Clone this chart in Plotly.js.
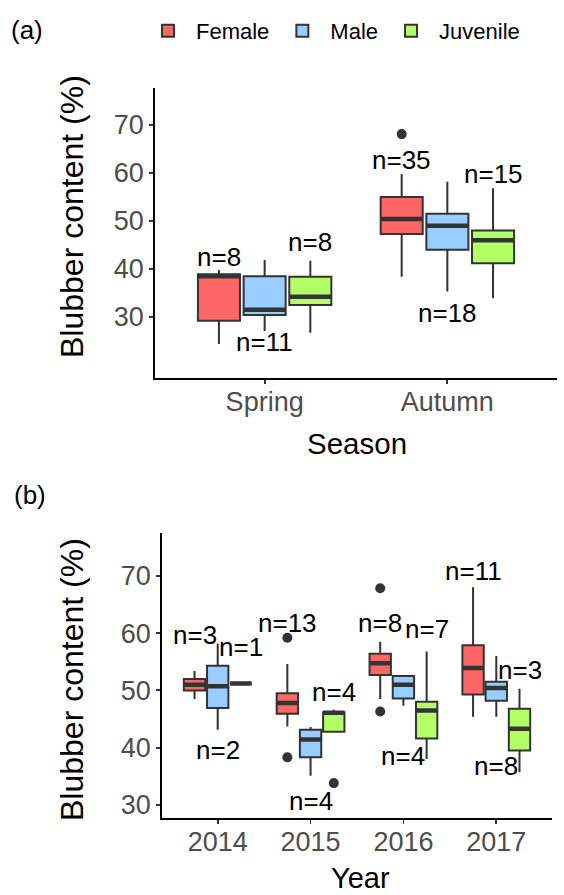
<!DOCTYPE html>
<html>
<head>
<meta charset="utf-8">
<script src="https://cdn.plot.ly/plotly-3.0.1.min.js"></script>
<style>
html,body{margin:0;padding:0;background:#ffffff;}
#chart{width:564px;height:895px;}
</style>
</head>
<body>
<div id="chart"></div>
<script>
// ---------------- DATA ----------------
const groups = ['Female', 'Male', 'Juvenile'];

// Panel (a): by season. Each row = [lower whisker, Q1, median, Q3, upper whisker]
const seasons = ['Spring', 'Autumn'];
const seasonFemale   = [[24.4, 29.2, 38.5, 38.9, 39.8], [38.4, 47.3, 50.4, 55.0, 59.8]];
const seasonMale     = [[27.1, 30.4, 31.5, 38.5, 41.9], [35.3, 44.0, 49.0, 51.5, 58.2]];
const seasonJuvenile = [[26.7, 32.5, 34.2, 38.4, 41.7], [33.9, 41.2, 46.0, 48.0, 56.8]];
const seasonFemaleOut   = [[], [68.1]];
const seasonMaleOut     = [[], []];
const seasonJuvenileOut = [[], []];
const seasonFemaleN   = [8, 35];
const seasonMaleN     = [11, 18];
const seasonJuvenileN = [8, 15];

// Panel (b): by year
const years = ['2014', '2015', '2016', '2017'];
const yearFemale   = [[48.5, 50.0, 51.0, 52.0, 53.4], [43.7, 45.9, 47.8, 49.5, 54.6], [48.5, 52.7, 54.75, 56.4, 58.5], [45.4, 49.3, 53.9, 57.9, 68.0]];
const yearMale     = [[43.1, 46.9, 50.7, 54.3, 58.2], [35.1, 38.3, 41.4, 43.1, 43.6], [47.3, 48.6, 51.0, 52.5, 52.5], [45.4, 48.2, 50.4, 51.5, 56.0]];
const yearJuvenile = [[51.2, 51.2, 51.2, 51.2, 51.2], [42.75, 42.75, 46.1, 46.2, 46.6], [38.0, 41.6, 46.5, 48.0, 56.8], [35.7, 39.5, 43.3, 46.8, 50.3]];
const yearFemaleOut   = [[], [59.2, 38.3], [67.85, 46.3], []];
const yearMaleOut     = [[], [], [], []];
const yearJuvenileOut = [[], [33.8], [], []];
const yearFemaleN   = [3, 13, 8, 11];
const yearMaleN     = [2, 4, 4, 8];
const yearJuvenileN = [1, 4, 7, 3];

// ---------------- LABEL PLACEMENT (y in data units) ----------------
const seasonFemaleLabelY   = [42.5, 62.7];
const seasonMaleLabelY     = [24.8, 30.8];
const seasonJuvenileLabelY = [45.6, 59.8];
const yearFemaleLabelY   = [59.7, 61.8, 61.85, 70.9];
const yearMaleLabelY     = [39.6, 30.6, 38.6, 36.7];
const yearJuvenileLabelY = [57.65, 49.8, 60.7, 53.6];

// ---------------- STYLE ----------------
const FONT = '"Liberation Sans", Arial, sans-serif';
const colors = {Female: '#FF6666', Male: '#99CCFF', Juvenile: '#B3FF66'};
const OUTLINE = '#333333';
const BOXGAP = 0.25, BOXGROUPGAP = 0.08;
const slot = (1 - BOXGAP) / groups.length;
const offsetOf = gi => (gi - (groups.length - 1) / 2) * slot;

const traces = [];
const annotations = [];

function addPanel(cats, statsByGroup, outByGroup, nByGroup, labelYByGroup, xa, ya, showLegend) {
  const pos = cats.map((c, i) => i);
  const xref = xa === 'x' ? 'x' : 'x2';
  const yref = ya === 'y' ? 'y' : 'y2';
  groups.forEach((g, gi) => {
    const st = statsByGroup[gi];
    traces.push({
      type: 'box', name: g, legendgroup: g, showlegend: showLegend,
      offsetgroup: g, xaxis: xa, yaxis: ya,
      x: pos,
      lowerfence: st.map(s => s[0]), q1: st.map(s => s[1]), median: st.map(s => s[2]),
      q3: st.map(s => s[3]), upperfence: st.map(s => s[4]),
      fillcolor: colors[g], line: {color: OUTLINE, width: 2},
      whiskerwidth: 0, boxpoints: false, hoverinfo: 'skip'
    });
  });
  // thick median bars
  groups.forEach((g, gi) => {
    const st = statsByGroup[gi];
    const med = st.map(s => s[2]);
    traces.push({
      type: 'box', name: g + ' median', legendgroup: g, showlegend: false,
      offsetgroup: g, xaxis: xa, yaxis: ya,
      x: pos, lowerfence: med, q1: med, median: med, q3: med, upperfence: med,
      fillcolor: 'rgba(0,0,0,0)', line: {color: OUTLINE, width: 4.5},
      whiskerwidth: 0, boxpoints: false, hoverinfo: 'skip'
    });
  });
  // outliers
  groups.forEach((g, gi) => {
    const ox = [], oy = [];
    outByGroup[gi].forEach((vals, ci) => vals.forEach(v => { ox.push(ci + offsetOf(gi)); oy.push(v); }));
    if (ox.length) {
      traces.push({
        type: 'scatter', mode: 'markers', x: ox, y: oy, xaxis: xa, yaxis: ya,
        showlegend: false, hoverinfo: 'skip',
        marker: {color: OUTLINE, size: 10}
      });
    }
  });
  // n labels
  groups.forEach((g, gi) => {
    nByGroup[gi].forEach((n, ci) => {
      annotations.push({
        xref: xref, yref: yref, x: ci + offsetOf(gi), y: labelYByGroup[gi][ci],
        text: 'n=' + n, showarrow: false, xanchor: 'center', yanchor: 'middle',
        font: {family: FONT, size: 26, color: '#000000'}
      });
    });
  });
}

addPanel(seasons, [seasonFemale, seasonMale, seasonJuvenile],
         [seasonFemaleOut, seasonMaleOut, seasonJuvenileOut],
         [seasonFemaleN, seasonMaleN, seasonJuvenileN],
         [seasonFemaleLabelY, seasonMaleLabelY, seasonJuvenileLabelY], 'x', 'y', true);
addPanel(years, [yearFemale, yearMale, yearJuvenile],
         [yearFemaleOut, yearMaleOut, yearJuvenileOut],
         [yearFemaleN, yearMaleN, yearJuvenileN],
         [yearFemaleLabelY, yearMaleLabelY, yearJuvenileLabelY], 'x2', 'y2', false);

// titles & panel labels
const W = 564, H = 895;
function paperText(text, px, py, size, angle) {
  annotations.push({xref: 'paper', yref: 'paper', x: px / W, y: 1 - py / H,
    text: text, showarrow: false, xanchor: 'center', yanchor: 'middle',
    textangle: angle || 0, font: {family: FONT, size: size, color: '#000000'}});
}
paperText('(a)', 27, 30, 26);
paperText('(b)', 30, 495, 26);
paperText('Blubber content (%)', 72, 217, 32, -90);
paperText('Blubber content (%)', 72, 680, 32, -90);
paperText('Season', 357, 443, 29.5);
paperText('Year', 360, 878, 29);

const tickFont = {family: FONT, size: 27, color: '#4D4D4D'};
const axisCommon = {
  showgrid: false, zeroline: false, showline: true, linecolor: '#000000', linewidth: 1.8,
  ticks: 'outside', ticklen: 4, tickwidth: 1.8, tickcolor: '#333333',
  tickfont: tickFont, automargin: false, fixedrange: true
};

const layout = {
  width: W, height: H,
  margin: {l: 0, r: 0, t: 0, b: 0, pad: 0},
  paper_bgcolor: '#ffffff', plot_bgcolor: '#ffffff',
  font: {family: FONT},
  boxmode: 'group', boxgap: BOXGAP, boxgroupgap: BOXGROUPGAP,
  showlegend: true,
  legend: {orientation: 'h', x: 140 / W, y: 1 - 10 / H, xanchor: 'left', yanchor: 'top',
           font: {family: FONT, size: 22, color: '#000000'}, bgcolor: 'rgba(0,0,0,0)',
           itemwidth: 46, tracegroupgap: 0},
  xaxis: Object.assign({}, axisCommon, {domain: [155 / W, 557 / W], range: [-0.6, 1.6],
          tickmode: 'array', tickvals: seasons.map((c, i) => i), ticktext: seasons, anchor: 'y',
          ticklabelstandoff: -5}),
  yaxis: Object.assign({}, axisCommon, {domain: [1 - 378 / H, 1 - 88 / H], range: [17.3, 77.7],
          tickmode: 'array', tickvals: [30, 40, 50, 60, 70], anchor: 'x'}),
  xaxis2: Object.assign({}, axisCommon, {domain: [162 / W, 552 / W], range: [-0.6, 3.6],
          tickmode: 'array', tickvals: years.map((c, i) => i), ticktext: years, anchor: 'y2',
          ticklabelstandoff: -5}),
  yaxis2: Object.assign({}, axisCommon, {domain: [1 - 818 / H, 1 - 533 / H], range: [27.7, 77.5],
          tickmode: 'array', tickvals: [30, 40, 50, 60, 70], anchor: 'x2'}),
  annotations: annotations
};

Plotly.newPlot('chart', traces, layout, {displayModeBar: false, staticPlot: true});
</script>
</body>
</html>
